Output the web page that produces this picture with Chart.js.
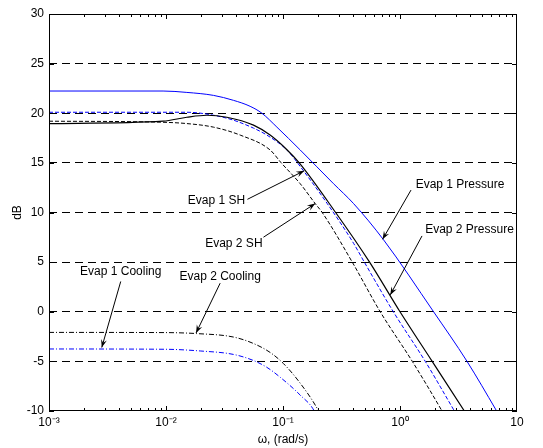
<!DOCTYPE html>
<html>
<head>
<meta charset="utf-8">
<script src="https://cdn.jsdelivr.net/npm/chart.js@4.4.1/dist/chart.umd.min.js"></script>
<style>
html,body{margin:0;padding:0;background:#fff}
#wrap{width:543px;height:448px}
</style>
</head>
<body>
<div id="wrap"><canvas id="chart"></canvas></div>
<script>
// frequency (rad/s) and magnitude (dB)
const evap1PressW=[0.001,0.00944,0.01507,0.02547,0.03776,0.05236,0.06607,0.08872,0.1403,0.2704,0.4009,0.7244,1.936,3.741,6.622,7.943];
const evap1PressDb=[22.24,22.24,22.1,21.8,21.3,20.7,20.0,18.6,16.3,12.9,10.9,7.24,0,-5,-9.9,-11.5];

const evap2PressW=[0.001,0.00944,0.01507,0.02234,0.03311,0.05598,0.07762,0.1086,0.1377,0.2818,0.5495,1.0,1.884,3.548,4.169];
const evap2PressDb=[18.96,19.2,19.6,19.8,19.6,18.8,17.8,16.3,15.0,10.0,5.0,0,-5,-10,-11.3];

const evap1ShW=[0.001,0.01507,0.02547,0.03776,0.05598,0.07278,0.1079,0.1496,0.2388,0.4009,0.4955,0.877,1.644,2.917,3.467];
const evap1ShDb=[20.1,20.1,19.8,19.3,18.5,17.8,16.3,14.2,10.9,6.9,5.0,0,-5,-10,-11.5];

const evap2ShW=[0.001,0.00891,0.01507,0.02547,0.04305,0.07762,0.09661,0.1403,0.1884,0.2163,0.3908,0.6776,1.274,2.286,2.692];
const evap2ShDb=[19.2,19.1,18.96,18.6,17.8,16.3,15.0,12.9,10.9,10.0,5.0,0,-5,-10,-11.5];

const evap1CoolW=[0.001,0.00982,0.01959,0.03776,0.05559,0.07278,0.09462,0.1403,0.1849,0.2042];
const evap1CoolDb=[-3.75,-3.78,-3.95,-4.3,-4.9,-5.6,-6.6,-8.4,-10,-11.3];

const evap2CoolW=[0.001,0.00982,0.01832,0.03776,0.05598,0.07762,0.1005,0.1403,0.2014,0.2239];
const evap2CoolDb=[-2.08,-2.1,-2.2,-2.55,-3.2,-4.1,-5.2,-7.2,-10,-11.2];

const xTickValues=[0.001,0.01,0.1,1,10];
const xTickLabels=["10\u207B\u00B3","10\u207B\u00B2","10\u207B\u00B9","10\u2070","10"];

// text labels with arrows: [text, textW, textDb, fromW, fromDb, tipW, tipDb]
const notes=[
  ["Evap 1 SH",0.02698,11.16,0.04966,11.33,0.1517,14.2],
  ["Evap 2 SH",0.03802,6.90,0.06808,7.51,0.1884,10.9],
  ["Evap 1 Pressure",3.258,12.83,1.242,12.26,0.7096,7.3],
  ["Evap 2 Pressure",3.926,8.24,1.542,7.64,0.826,1.7],
  ["Evap 1 Cooling",0.004102,4.05,0.004102,3.05,0.002825,-3.6],
  ["Evap 2 Cooling",0.02904,3.55,0.02904,2.88,0.01807,-2.14]
];

const font="'Liberation Sans', Arial, sans-serif";
const pts=(w,d)=>w.map((v,i)=>({x:v,y:d[i]}));

function line(label,w,d,color,dash,width){
  return {label:label,data:pts(w,d),borderColor:color,borderWidth:width||1,borderDash:dash,
    pointRadius:0,fill:false,cubicInterpolationMode:'monotone'};
}

// box, inside ticks and annotations
const frame={
  id:'frame',
  afterDatasetsDraw(chart){
    const {ctx,chartArea:a,scales:{x,y}}=chart;
    ctx.save();
    ctx.strokeStyle='#000';
    ctx.lineWidth=1;
    ctx.setLineDash([]);
    ctx.strokeRect(a.left+0.5,a.top+0.5,a.right-a.left-1,a.bottom-a.top-1);
    ctx.beginPath();
    [0.001,0.01,0.1,1].forEach(dec=>{
      for(let k=1;k<=9;k++){
        const px=Math.round(x.getPixelForValue(dec*k))+0.5;
        const len=k===1?5:3;
        ctx.moveTo(px,a.bottom);ctx.lineTo(px,a.bottom-len);
        ctx.moveTo(px,a.top);ctx.lineTo(px,a.top+len);
      }
    });
    for(let v=-10;v<=30;v+=5){
      const py=Math.round(y.getPixelForValue(v))+0.5;
      ctx.moveTo(a.left,py);ctx.lineTo(a.left+5,py);
      ctx.moveTo(a.right,py);ctx.lineTo(a.right-5,py);
    }
    ctx.stroke();

    ctx.fillStyle='#000';
    ctx.font='12px '+font;
    ctx.textAlign='center';
    ctx.textBaseline='middle';
    notes.forEach(n=>{
      ctx.fillText(n[0],x.getPixelForValue(n[1]),y.getPixelForValue(n[2]));
      const x0=x.getPixelForValue(n[3]),y0=y.getPixelForValue(n[4]);
      const x1=x.getPixelForValue(n[5]),y1=y.getPixelForValue(n[6]);
      ctx.beginPath();ctx.moveTo(x0,y0);ctx.lineTo(x1,y1);ctx.stroke();
      const ang=Math.atan2(y1-y0,x1-x0),L=8,W=3;
      ctx.beginPath();
      ctx.moveTo(x1,y1);
      ctx.lineTo(x1-L*Math.cos(ang)+W*Math.sin(ang),y1-L*Math.sin(ang)-W*Math.cos(ang));
      ctx.lineTo(x1-5*Math.cos(ang),y1-5*Math.sin(ang));
      ctx.lineTo(x1-L*Math.cos(ang)-W*Math.sin(ang),y1-L*Math.sin(ang)+W*Math.cos(ang));
      ctx.closePath();ctx.fill();
    });
    ctx.restore();
  }
};

new Chart(document.getElementById("chart"),{
  type:"line",
  data:{datasets:[
    line("Evap 1 Pressure",evap1PressW,evap1PressDb,"#0000ff",[],1),
    line("Evap 2 Pressure",evap2PressW,evap2PressDb,"#000",[],1.2),
    line("Evap 1 SH",evap1ShW,evap1ShDb,"#0000ff",[4,2],1),
    line("Evap 2 SH",evap2ShW,evap2ShDb,"#000",[4,2],1),
    line("Evap 1 Cooling",evap1CoolW,evap1CoolDb,"#0000ff",[5,2,1,2],1),
    line("Evap 2 Cooling",evap2CoolW,evap2CoolDb,"#000",[5,2,1,2],1)
  ]},
  options:{
    responsive:true,
    maintainAspectRatio:false,
    animation:false,
    layout:{padding:{left:0,right:26,top:14,bottom:0}},
    plugins:{legend:{display:false},tooltip:{enabled:false}},
    scales:{
      x:{
        type:"logarithmic",min:0.001,max:10,
        afterBuildTicks:s=>{s.ticks=xTickValues.map(v=>({value:v}));},
        afterFit:s=>{s.height=37;},
        grid:{display:false,drawTicks:false},
        border:{display:false},
        ticks:{autoSkip:false,maxRotation:0,padding:4,color:"#000",font:{family:font,size:12},
          callback:v=>{const i=xTickValues.indexOf(v);return i<0?"":xTickLabels[i];}},
        title:{display:true,text:"\u03C9, (rad/s)",color:"#000",font:{family:font,size:12},padding:{top:0,bottom:1}}
      },
      y:{
        min:-10,max:30,
        afterFit:s=>{s.width=49;},
        grid:{drawTicks:false,lineWidth:1,
          color:c=>(c.tick.value===30||c.tick.value===-10)?"rgba(0,0,0,0)":"#000"},
        border:{display:false,dash:[8,5]},
        ticks:{stepSize:5,padding:5,color:"#000",font:{family:font,size:12}},
        title:{display:true,text:"dB",color:"#000",font:{family:font,size:12},padding:{top:10,bottom:0}}
      }
    }
  },
  plugins:[frame]
});
</script>
</body>
</html>
